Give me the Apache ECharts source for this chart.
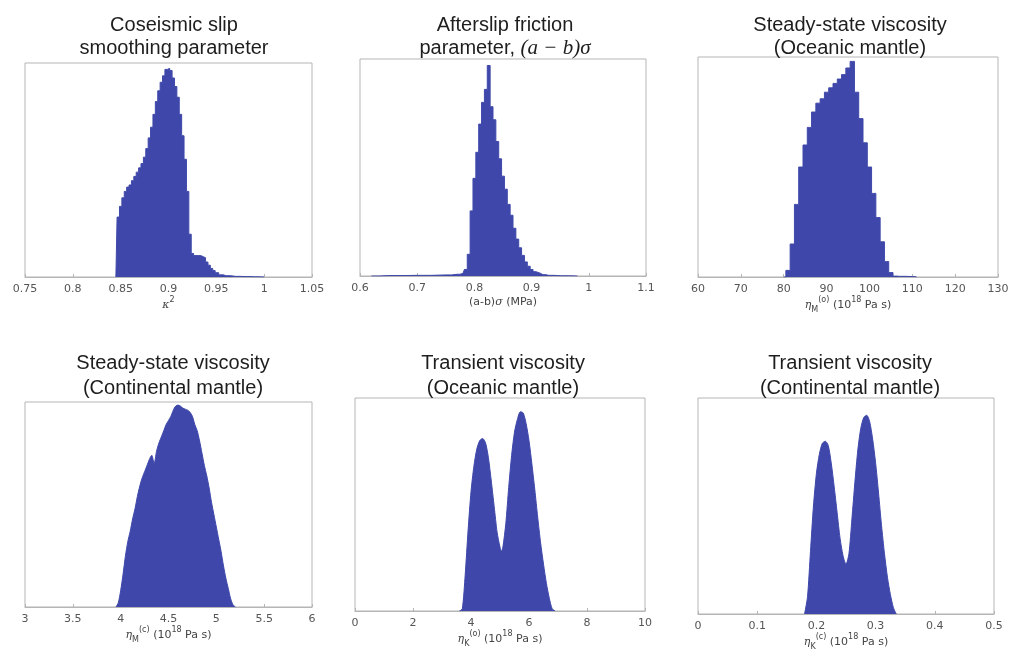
<!DOCTYPE html>
<html><head><meta charset="utf-8">
<script src="https://cdn.jsdelivr.net/npm/echarts@6/dist/echarts.min.js"></script>
<style>html,body{margin:0;padding:0;background:#fff}#c{width:1016px;height:664px}</style>
</head><body><div id="c"></div>
<script>
// ---------- Titles ----------
const titles = [
  'Coseismic slip\nsmoothing parameter',
  'Afterslip friction\nparameter, {m|(a − b)σ}',
  'Steady-state viscosity\n(Oceanic mantle)',
  'Steady-state viscosity\n(Continental mantle)',
  'Transient viscosity\n(Oceanic mantle)',
  'Transient viscosity\n(Continental mantle)'
];
const axisNames = [
  '{it|κ}{sup|2}',
  '(a-b){it|σ} (MPa)',
  '{it|η}{sub|M}{sup|(o)} (10{sup|18} Pa s)',
  '{it|η}{sub|M}{sup|(c)} (10{sup|18} Pa s)',
  '{it|η}{sub|K}{sup|(o)} (10{sup|18} Pa s)',
  '{it|η}{sub|K}{sup|(c)} (10{sup|18} Pa s)'
];
// ---------- Tick labels ----------
const ticks1 = [0.75, 0.8, 0.85, 0.9, 0.95, 1, 1.05];
const ticks2 = [0.6, 0.7, 0.8, 0.9, 1, 1.1];
const ticks3 = [60, 70, 80, 90, 100, 110, 120, 130];
const ticks4 = [3, 3.5, 4, 4.5, 5, 5.5, 6];
const ticks5 = [0, 2, 4, 6, 8, 10];
const ticks6 = [0, 0.1, 0.2, 0.3, 0.4, 0.5];

// ---------- Histogram data (bin centres, relative density) ----------
const x1 = [0.845,0.8475,0.85,0.8525,0.855,0.8575,0.86,0.8625,0.865,0.8675,0.87,0.8725,0.875,0.8775,0.88,0.8825,0.885,0.8875,0.89,0.8925,0.895,0.8975,0.9,0.9025,0.905,0.9075,0.91,0.9125,0.915,0.9175,0.92,0.9225,0.925,0.9275,0.93,0.9325,0.935,0.9375,0.94,0.9425,0.945,0.9475,0.95,0.955,0.96,0.97,0.98,0.99,1.0];
const y1 = [0,0.28,0.33,0.37,0.40,0.42,0.43,0.45,0.47,0.49,0.51,0.53,0.56,0.60,0.65,0.70,0.76,0.82,0.87,0.91,0.94,0.97,0.975,0.965,0.93,0.89,0.84,0.76,0.66,0.55,0.40,0.20,0.11,0.10,0.10,0.10,0.095,0.09,0.07,0.055,0.04,0.03,0.02,0.01,0.006,0.003,0.002,0.001,0];

const x2 = [0.62,0.65,0.7,0.75,0.77,0.78,0.785,0.79,0.795,0.8,0.805,0.81,0.815,0.82,0.825,0.83,0.835,0.84,0.845,0.85,0.855,0.86,0.865,0.87,0.875,0.88,0.885,0.89,0.895,0.9,0.905,0.91,0.92,0.93,0.95,0.98];
const y2 = [0,0.002,0.003,0.005,0.008,0.012,0.03,0.10,0.30,0.45,0.57,0.70,0.80,0.86,0.97,0.78,0.72,0.62,0.54,0.46,0.40,0.33,0.28,0.22,0.17,0.13,0.095,0.065,0.045,0.03,0.02,0.013,0.006,0.003,0.001,0];

const x3 = [80,81,82,83,84,85,86,87,88,89,90,91,92,93,94,95,96,97,98,99,100,101,102,103,104,105,106,107,110,111];
const y3 = [0,0.03,0.15,0.33,0.50,0.60,0.68,0.75,0.79,0.81,0.84,0.86,0.88,0.90,0.92,0.95,0.98,0.84,0.72,0.61,0.50,0.38,0.27,0.16,0.07,0.02,0.004,0.003,0.002,0];

const x4 = [3.95,3.975,4.0,4.025,4.05,4.075,4.1,4.125,4.15,4.175,4.2,4.225,4.25,4.275,4.3,4.325,4.35,4.375,4.4,4.425,4.45,4.475,4.5,4.525,4.55,4.575,4.6,4.625,4.65,4.675,4.7,4.725,4.75,4.775,4.8,4.825,4.85,4.875,4.9,4.925,4.95,4.975,5.0,5.025,5.05,5.075,5.1,5.125,5.15,5.175,5.2];
const y4 = [0,0.02,0.08,0.16,0.25,0.32,0.37,0.43,0.48,0.54,0.59,0.63,0.66,0.69,0.72,0.74,0.70,0.76,0.80,0.83,0.86,0.89,0.91,0.93,0.96,0.98,0.985,0.98,0.97,0.965,0.96,0.95,0.93,0.89,0.86,0.81,0.75,0.69,0.64,0.58,0.51,0.45,0.39,0.33,0.27,0.20,0.14,0.09,0.04,0.01,0];

const x5 = [3.6,3.7,3.8,3.9,4.0,4.1,4.2,4.3,4.4,4.5,4.6,4.7,4.8,4.9,5.0,5.05,5.1,5.2,5.3,5.4,5.5,5.6,5.7,5.8,5.9,6.0,6.1,6.2,6.3,6.4,6.5,6.6,6.7,6.8,6.9];
const y5 = [0,0.01,0.17,0.38,0.56,0.68,0.76,0.80,0.81,0.79,0.72,0.61,0.49,0.37,0.30,0.28,0.30,0.41,0.58,0.73,0.84,0.90,0.935,0.93,0.88,0.80,0.69,0.57,0.44,0.32,0.22,0.13,0.06,0.01,0];

const x6 = [0.18,0.185,0.19,0.195,0.2,0.205,0.21,0.215,0.22,0.225,0.23,0.235,0.24,0.245,0.25,0.255,0.26,0.265,0.27,0.275,0.28,0.285,0.29,0.295,0.3,0.305,0.31,0.315,0.32,0.325,0.33,0.335];
const y6 = [0,0.08,0.29,0.50,0.65,0.74,0.79,0.80,0.78,0.70,0.59,0.47,0.35,0.27,0.23,0.28,0.44,0.61,0.76,0.86,0.91,0.92,0.89,0.81,0.70,0.56,0.41,0.28,0.17,0.09,0.03,0];

// ---------- Layout ----------
const panels = [
  {x: x1, y: y1, ticks: ticks1, step: true,  grid: {left: 25,  top: 63,  width: 287, height: 214}, tTop: 9,   tX: 169},
  {x: x2, y: y2, ticks: ticks2, step: true,  grid: {left: 360, top: 59,  width: 286, height: 217}, tTop: 9,   tX: 500},
  {x: x3, y: y3, ticks: ticks3, step: true,  grid: {left: 698, top: 57,  width: 300, height: 220}, tTop: 9,   tX: 845},
  {x: x4, y: y4, ticks: ticks4, step: false, grid: {left: 25,  top: 402, width: 287, height: 205}, tTop: 346, tX: 168},
  {x: x5, y: y5, ticks: ticks5, step: false, grid: {left: 355, top: 398, width: 290, height: 213}, tTop: 346, tX: 498},
  {x: x6, y: y6, ticks: ticks6, step: false, grid: {left: 698, top: 398, width: 296, height: 216}, tTop: 346, tX: 845}
];

const FILL = '#3f48aa';
const labelFont = 'DejaVu Sans';
const richName = {
  it:  {fontFamily: 'DejaVu Serif', fontStyle: 'italic', fontSize: 11, color: '#444', lineHeight: 18},
  sup: {fontFamily: labelFont, fontSize: 8, color: '#444', verticalAlign: 'top', lineHeight: 18},
  sub: {fontFamily: labelFont, fontSize: 8, color: '#444', verticalAlign: 'bottom', lineHeight: 18}
};

const option = {
  animation: false,
  backgroundColor: '#fff',
  title: panels.map((p, i) => ({
    text: titles[i],
    left: p.tX, top: p.tTop,
    textAlign: 'center',
    textStyle: {
      fontFamily: 'Liberation Sans', fontSize: 20, fontWeight: 'normal', color: '#1e1e1e',
      lineHeight: i >= 3 ? 25 : 23,
      rich: {m: {fontFamily: 'Liberation Serif', fontStyle: 'italic', fontSize: 21, color: '#1e1e1e', lineHeight: 23}}
    }
  })),
  grid: panels.map(p => Object.assign({show: true, borderColor: '#b5b5b5', borderWidth: 1, containLabel: false}, p.grid)),
  xAxis: panels.map((p, i) => ({
    type: 'value', gridIndex: i,
    min: p.ticks[0], max: p.ticks[p.ticks.length - 1],
    interval: Math.round((p.ticks[1] - p.ticks[0]) * 1000) / 1000,
    name: axisNames[i], nameLocation: 'middle', nameGap: 17,
    nameTextStyle: {fontFamily: labelFont, fontSize: 11, color: '#444', verticalAlign: 'top', rich: richName},
    axisLine: {show: true, lineStyle: {color: '#b5b5b5', width: 1}},
    axisTick: {show: true, inside: true, length: 3, lineStyle: {color: '#b5b5b5'}},
    splitLine: {show: false},
    axisLabel: {fontFamily: labelFont, fontSize: 11, color: '#555', margin: 7}
  })),
  yAxis: panels.map((p, i) => ({
    type: 'value', gridIndex: i, min: 0, max: 1,
    axisLine: {show: false}, axisTick: {show: false}, axisLabel: {show: false}, splitLine: {show: false}
  })),
  series: panels.map((p, i) => ({
    type: 'line', xAxisIndex: i, yAxisIndex: i,
    data: p.x.map((v, k) => [v, p.y[k]]),
    step: p.step ? 'middle' : false,
    smooth: p.step ? false : 0.25,
    symbol: 'none',
    lineStyle: {color: FILL, width: 1},
    areaStyle: {color: FILL, opacity: 1}
  }))
};

const chart = echarts.init(document.getElementById('c'), null, {renderer: 'canvas'});
chart.setOption(option);
</script>
</body></html>
